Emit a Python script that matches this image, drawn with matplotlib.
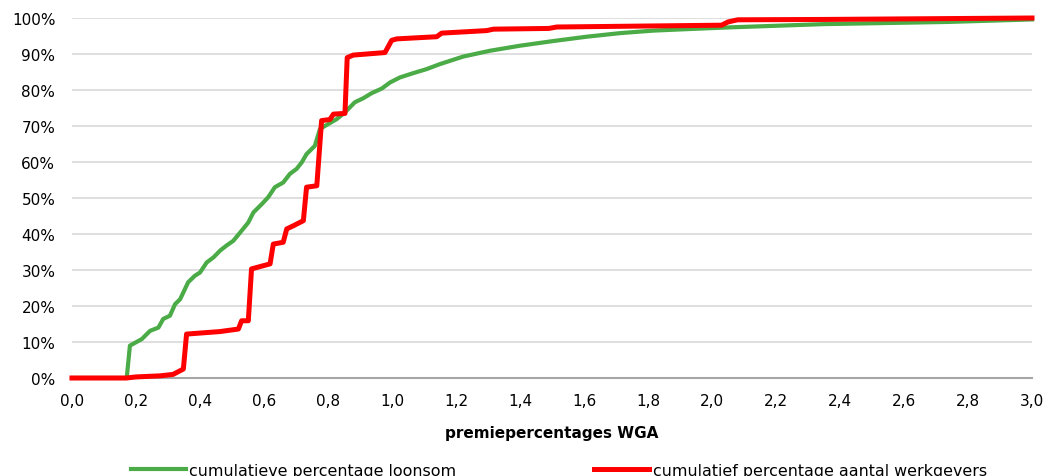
import matplotlib
matplotlib.use("Agg")
import matplotlib.pyplot as plt
from matplotlib.ticker import FuncFormatter

# cumulatieve percentage loonsom (green)
green_x = [0, 0.171, 0.181, 0.218, 0.244, 0.270, 0.285, 0.306, 0.322, 0.338, 0.363, 0.384,
           0.400, 0.421, 0.442, 0.463, 0.483, 0.504, 0.530, 0.551, 0.567, 0.593, 0.613,
           0.634, 0.660, 0.681, 0.702, 0.718, 0.733, 0.759, 0.775, 0.796, 0.827, 0.853,
           0.884, 0.910, 0.936, 0.968, 0.994, 1.025, 1.067, 1.108, 1.150, 1.223, 1.306,
           1.400, 1.504, 1.608, 1.713, 1.817, 1.920, 2.056, 2.350, 2.733, 3.0]
green_y = [0, 0, 9.0, 10.8, 13.1, 14.0, 16.4, 17.3, 20.5, 21.9, 26.6, 28.4,
           29.3, 32.1, 33.5, 35.4, 36.8, 38.1, 40.9, 43.2, 46.0, 48.3, 50.2,
           53.0, 54.3, 56.7, 58.1, 59.9, 62.2, 64.5, 69.2, 70.3, 71.9, 73.8,
           76.6, 77.7, 79.1, 80.4, 82.1, 83.5, 84.7, 85.8, 87.2, 89.3, 90.9,
           92.3, 93.6, 94.8, 95.8, 96.5, 96.9, 97.4, 98.3, 98.9, 99.6]

# cumulatief percentage aantal werkgevers (red)
red_x = [0, 0.17, 0.20, 0.275, 0.316, 0.348, 0.358, 0.4625, 0.52, 0.53, 0.551, 0.561,
         0.598, 0.619, 0.629, 0.660, 0.671, 0.692, 0.723, 0.733, 0.765, 0.780, 0.806,
         0.817, 0.853, 0.860, 0.879, 0.978, 0.999, 1.015, 1.140, 1.155, 1.296, 1.317,
         1.490, 1.515, 2.030, 2.050, 2.080, 2.350, 3.0]
red_y = [0, 0, 0.3, 0.6, 1.0, 2.5, 12.2, 12.9, 13.6, 15.9, 15.9, 30.3,
         31.2, 31.7, 37.2, 37.7, 41.4, 42.3, 43.7, 53.0, 53.4, 71.5, 71.8,
         73.3, 73.5, 89.0, 89.7, 90.4, 93.8, 94.2, 94.8, 95.8, 96.5, 96.9,
         97.1, 97.5, 98.0, 98.9, 99.5, 99.6, 100]

x_ticks = [i * 0.2 for i in range(16)]
y_ticks = list(range(0, 101, 10))

plt.rcParams["font.family"] = "DejaVu Sans"

fig = plt.figure(figsize=(10.48, 4.77), dpi=100)
ax = fig.add_axes([72 / 1048, 98 / 477, 960 / 1048, 360 / 477])

ax.plot(green_x, green_y, color="#4aab47", lw=3.0, label="cumulatieve percentage loonsom",
        solid_joinstyle="round", clip_on=False, zorder=3)
ax.plot(red_x, red_y, color="#ff0000", lw=3.6, label="cumulatief percentage aantal werkgevers",
        solid_joinstyle="round", clip_on=False, zorder=4)

ax.set_xlim(0, 3.0)
ax.set_ylim(0, 100)
ax.set_xticks(x_ticks)
ax.set_yticks(y_ticks)
ax.xaxis.set_major_formatter(FuncFormatter(lambda v, p: f"{v:.1f}".replace(".", ",")))
ax.yaxis.set_major_formatter(FuncFormatter(lambda v, p: f"{int(round(v))}%"))
ax.tick_params(axis="both", length=0, labelsize=11, colors="#000000")
ax.tick_params(axis="x", pad=11)
ax.tick_params(axis="y", pad=12)

ax.grid(axis="y", color="#d9d9d9", lw=1.2)
ax.set_axisbelow(True)
for s in ["top", "right", "left"]:
    ax.spines[s].set_visible(False)
ax.spines["bottom"].set_color("#a6a6a6")
ax.spines["bottom"].set_linewidth(1.5)

ax.set_xlabel("premiepercentages WGA", fontsize=11, fontweight="bold", labelpad=12)

fig.legend(loc="center", bbox_to_anchor=(0.533, 0.012), ncol=2, frameon=False,
           fontsize=11.4, handlelength=3.5, handletextpad=0.2, columnspacing=8.7)

fig.savefig("out.png", dpi=100)
